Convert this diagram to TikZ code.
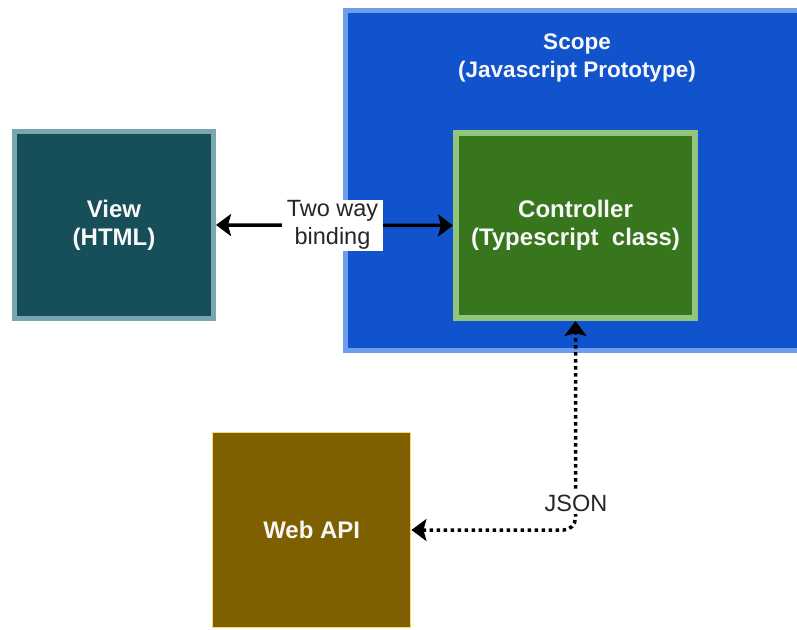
\documentclass[tikz,border=0pt]{standalone}
\usepackage{fontspec}
\setmainfont{Liberation Sans}
\usetikzlibrary{arrows.meta,calc}

\definecolor{viewfill}{HTML}{164E5A}
\definecolor{viewline}{HTML}{7AA6B0}
\definecolor{scopefill}{HTML}{1153CC}
\definecolor{scopeline}{HTML}{6D9EEB}
\definecolor{ctrlfill}{HTML}{38761D}
\definecolor{ctrlline}{HTML}{93C47D}
\definecolor{apifill}{HTML}{7F6000}
\definecolor{apiline}{HTML}{FFD966}
\definecolor{labeltext}{HTML}{262626}

\tikzset{
  box/.style={rectangle, align=center, text=white!94!gray,
    font=\fontsize{24}{28}\selectfont\bfseries},
  viewbox/.style={box, fill=viewfill, draw=viewline, line width=5pt,
    minimum width=199pt, minimum height=187pt},
  scopebox/.style={rectangle, fill=scopefill, draw=scopeline, line width=5pt,
    minimum width=470pt, minimum height=340pt},
  ctrlbox/.style={box, fill=ctrlfill, draw=ctrlline, line width=6pt,
    minimum width=239pt, minimum height=185pt},
  apibox/.style={box, fill=apifill, draw=apiline, line width=1.5pt,
    minimum width=198pt, minimum height=195pt},
  edgelabel/.style={fill=white, text=labeltext, align=center,
    font=\fontsize{23.5}{28}\selectfont, inner xsep=5pt, inner ysep=1pt},
  tip/.style={Stealth[length=15pt,width=22pt,inset=3pt]},
  link/.style={line width=3.5pt, black, {Stealth[length=15pt,width=22pt,inset=3pt]}-{Stealth[length=15pt,width=22pt,inset=3pt]}},
  jsonlink/.style={link, dash pattern=on 3.5pt off 3.5pt, rounded corners=12pt},
}

\begin{document}
\begin{tikzpicture}[x=1pt,y=-1pt]
  \clip (0,0) rectangle (797,629);
  \fill[white] (0,0) rectangle (797,629);

  % scope container and the nodes
  \node[scopebox] (scope) at (580.5,180.5) {};
  \node[box, font=\fontsize{22.5}{28}\selectfont\bfseries] (scopetitle) at (577,58) {Scope\\(Javascript Prototype)};
  \node[ctrlbox] (ctrl) at (575.5,225.5) {Controller\\(Typescript~~class)};
  \node[viewbox] (view) at (114,225) {View\\(HTML)};
  \node[apibox] (api) at (311.7,530) {Web API};

  % connectors
  \draw[link] (view.east) -- (ctrl.west)
    node[edgelabel, midway, xshift=-2pt] (bind) {Two way\\binding};
  \draw[jsonlink] (api.east) -| (ctrl.south);
  \node[edgelabel, inner xsep=1pt, inner ysep=3pt] (json) at (576,503) {JSON};
\end{tikzpicture}
\end{document}
